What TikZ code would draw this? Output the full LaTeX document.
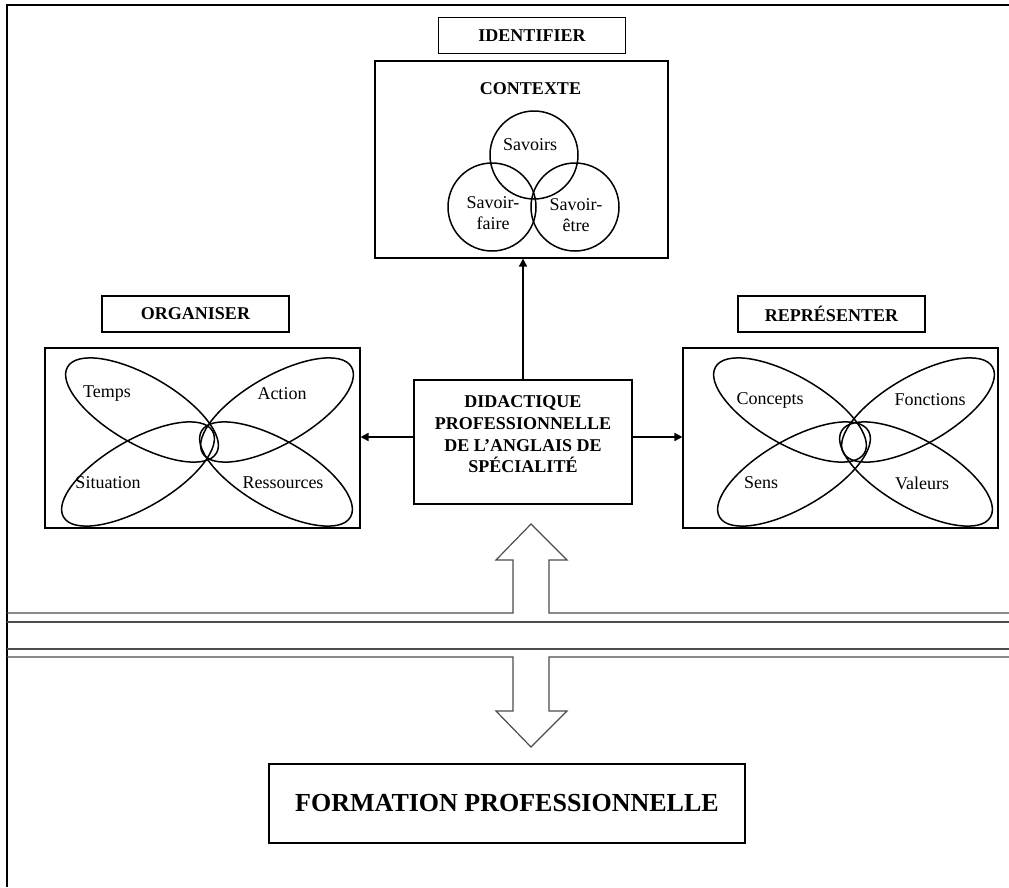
\documentclass[tikz,border=0pt]{standalone}
\usepackage{fontspec}
\setmainfont{Liberation Serif}
\usetikzlibrary{arrows.meta, positioning}

\begin{document}
\begin{tikzpicture}[
    x=1pt, y=-1pt,
    box/.style={rectangle, draw, line width=1.1pt, inner sep=0pt, align=center},
    tag/.style={box, font=\fontsize{18}{21.7}\selectfont\bfseries,
                minimum width=187pt, minimum height=36pt},
    head/.style={font=\fontsize{18}{21.7}\selectfont\bfseries, align=center, inner sep=0pt},
    lbl/.style={font=\fontsize{18}{21.7}\selectfont, align=center, inner sep=0pt},
    loop/.style={line width=1.5pt},
    arr/.style={-{Triangle[length=8pt, width=8pt]}, line width=1.6pt},
    rail/.style={line width=1.2pt, draw=black!70},
    frame/.style={line width=2pt},
  ]
    \useasboundingbox (0,0) rectangle (1009,887);
    \draw[frame] (7,887) -- (7,5) -- (1009,5);

    % top block
    \node[tag] (identifier) at (532,35.5) {IDENTIFIER};
    \node[box, minimum width=293pt, minimum height=197pt] (contexte) at (521.5,159.5) {};
    \node[head] (ctxtitle) at (530.5,89) {CONTEXTE};
    \draw[loop] (534,155) circle[radius=44];
    \draw[loop] (492,207) circle[radius=44];
    \draw[loop] (575,207) circle[radius=44];
    \node[lbl] (savoirs) at (530,145) {Savoirs};
    \node[lbl] (faire) at (493,213) {Savoir-\\faire};
    \node[lbl] (etre) at (576,215) {Savoir-\\être};

    % centre
    \node[box, minimum width=218pt, minimum height=124pt] (didac) at (523,442) {};
    \node[head] (didactext) at (523,434.5)
      {DIDACTIQUE\\PROFESSIONNELLE\\DE L'ANGLAIS DE\\SPÉCIALITÉ};

    % left block
    \node[tag] (organiser) at (195.5,314) {ORGANISER};
    \node[box, minimum width=315pt, minimum height=180pt] (orgbox) at (202.5,438) {};
    \draw[loop, rotate around={-30:(142,410)}] (142,410) ellipse [x radius=86, y radius=34];
    \draw[loop, rotate around={30:(277,410)}] (277,410) ellipse [x radius=86, y radius=34];
    \draw[loop, rotate around={30:(138,474)}] (138,474) ellipse [x radius=86, y radius=34];
    \draw[loop, rotate around={-30:(276,474)}] (276,474) ellipse [x radius=86, y radius=34];
    \node[lbl] (temps) at (107,394) {Temps};
    \node[lbl] (action) at (282,394) {Action};
    \node[lbl] (situation) at (108,483) {Situation};
    \node[lbl] (ressources) at (283,483) {Ressources};

    % right block
    \node[tag] (representer) at (831.5,314) {REPRÉSENTER};
    \node[box, minimum width=315pt, minimum height=180pt] (repbox) at (840.5,438) {};
    \draw[loop, rotate around={-30:(790,410)}] (790,410) ellipse [x radius=86, y radius=34];
    \draw[loop, rotate around={30:(918,410)}] (918,410) ellipse [x radius=86, y radius=34];
    \draw[loop, rotate around={30:(794,474)}] (794,474) ellipse [x radius=86, y radius=34];
    \draw[loop, rotate around={-30:(916,474)}] (916,474) ellipse [x radius=86, y radius=34];
    \node[lbl] (concepts) at (770,400) {Concepts};
    \node[lbl] (fonctions) at (930,400) {Fonctions};
    \node[lbl] (sens) at (761,483) {Sens};
    \node[lbl] (valeurs) at (922,483) {Valeurs};

    % links
    \draw[arr] (didac.north) -- (didac.north |- contexte.south);
    \draw[arr] ([yshift=5pt]didac.west) -- ([yshift=5pt]didac.west -| orgbox.east);
    \draw[arr] ([yshift=5pt]didac.east) -- ([yshift=5pt]didac.east -| repbox.west);

    % rails with block arrows
    \draw[rail] (7,613) -- (513,613) -- (513,560) -- (496,560) -- (531,524)
      -- (567,560) -- (549,560) -- (549,613) -- (1009,613);
    \draw[rail] (7,622) -- (1009,622);
    \draw[rail] (7,649) -- (1009,649);
    \draw[rail] (7,657) -- (513,657) -- (513,711) -- (496,711) -- (531,747)
      -- (567,711) -- (549,711) -- (549,657) -- (1009,657);

    % bottom
    \node[box, minimum width=476pt, minimum height=79pt,
          font=\fontsize{26}{30}\selectfont\bfseries] (formation) at (507,803.5)
      {FORMATION PROFESSIONNELLE};
\end{tikzpicture}
\end{document}
